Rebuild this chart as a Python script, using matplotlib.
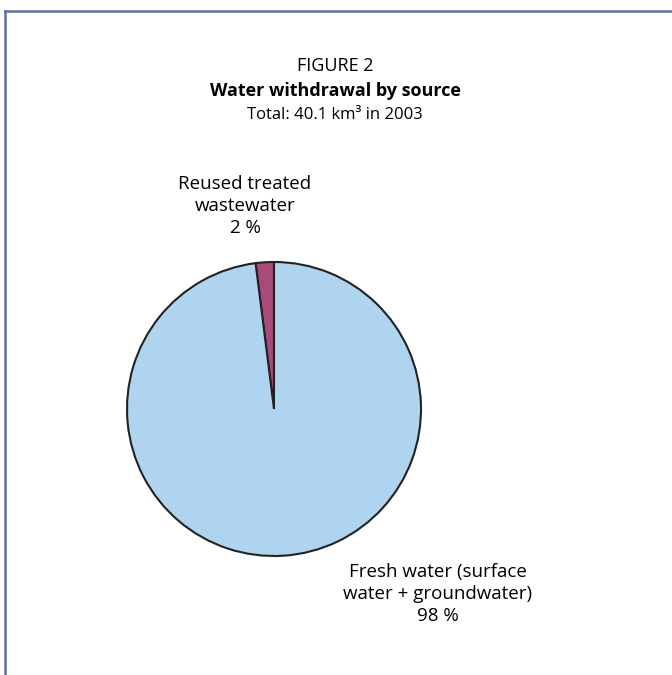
import matplotlib.pyplot as plt
from matplotlib.lines import Line2D

plt.rcParams['font.family'] = ['Open Sans', 'DejaVu Sans']

# withdrawal shares by source (%)
sources = ['Reused treated\nwastewater', 'Fresh water (surface\nwater + groundwater)']
shares = [2, 98]
colors = ['#a84b7a', '#aed4f0']

W, H = 672, 675
fig = plt.figure(figsize=(W / 100, H / 100), dpi=100)

# frame lines along top and left
fig.add_artist(Line2D([5 / W, 1], [1 - 11 / H, 1 - 11 / H], color='#5e6fa6', lw=1.8))
fig.add_artist(Line2D([5 / W, 5 / W], [1 - 11 / H, 0], color='#5e6fa6', lw=1.8))

# title block
fig.text(335 / W, 1 - 66 / H, 'FIGURE 2', ha='center', va='center', fontsize=13)
fig.text(335 / W, 1 - 91 / H, 'Water withdrawal by source', ha='center', va='center',
         fontsize=13, fontweight='bold')
fig.text(335 / W, 1 - 115 / H, 'Total: 40.1 km³ in 2003', ha='center', va='center',
         fontsize=12)

ax = fig.add_axes([127 / W, 1 - 556 / H, 294 / W, 294 / H])
ax.pie(shares, colors=colors, startangle=90, counterclock=True, radius=1,
       wedgeprops=dict(edgecolor='#222222', linewidth=1.5))
ax.set_xlim(-1.0, 1.0)
ax.set_ylim(-1.0, 1.0)
ax.set_aspect('equal')
ax.axis('off')

# slice labels
fig.text(245 / W, 1 - 206 / H, f'{sources[0]}\n{shares[0]} %', ha='center', va='center',
         fontsize=13.5, linespacing=1.3)
fig.text(438 / W, 1 - 594 / H, f'{sources[1]}\n{shares[1]} %', ha='center', va='center',
         fontsize=13.5, linespacing=1.3)

fig.savefig('out.png', dpi=100, facecolor='white')
